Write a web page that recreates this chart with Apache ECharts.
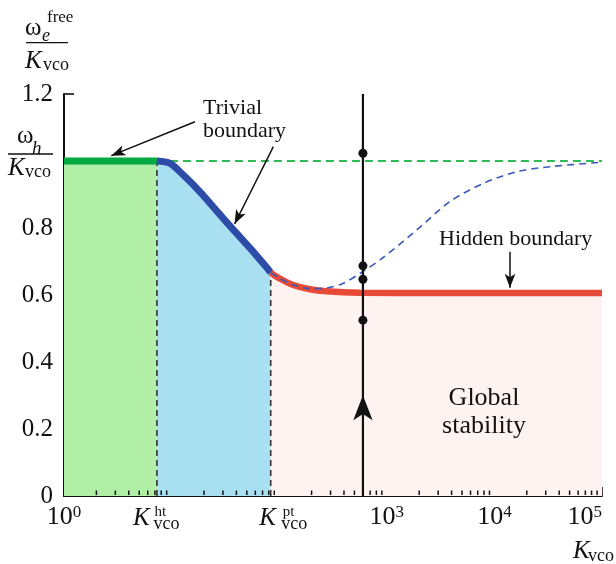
<!DOCTYPE html>
<html>
<head>
<meta charset="utf-8">
<script src="https://cdn.jsdelivr.net/npm/echarts@6/dist/echarts.min.js"></script>
<style>html,body{margin:0;padding:0;background:#fff}#c{width:616px;height:564px}</style>
</head>
<body>
<div id="c"></div>
<script>
// ---- data ----
const K_HT = 7.3;
const K_PT = 83.4;
const K_PROBE = 600;
const H_LEVEL = 1.0;

const trivialK = [1, 7.3];
const trivialV = [1.0, 1.0];

const blueK = [7.3, 9.66, 12.85, 18.37, 26.24, 37.41, 53.58, 76.56, 83.4];
const blueV = [1.0, 0.993, 0.958, 0.908, 0.851, 0.795, 0.740, 0.682, 0.667];

const redK = [83.4, 100, 135, 193, 276, 564, 3000, 100000];
const redV = [0.667, 0.650, 0.630, 0.617, 0.611, 0.607, 0.606, 0.606];

const dashK = [83.4, 100, 135, 193, 276, 395, 598, 927, 1897, 3864, 7889, 16110, 32890, 95720];
const dashV = [0.667, 0.650, 0.630, 0.619, 0.621, 0.635, 0.670, 0.712, 0.794, 0.879, 0.933, 0.968, 0.983, 0.996];

const probeDotsV = [1.023, 0.687, 0.647, 0.525];
const probeArrowV = 0.301;

const xLabelPowers = [0, 3, 4, 5];
const minorDigits = [2, 3, 4, 5, 6, 7, 8, 9];
const decades = [1, 10, 100, 1000, 10000];

// annotation arrows (data coordinates): [fromK, fromV, toK, toV]
const arrows = [
  [16.5, 1.117, 2.75, 1.016],
  [88.2, 1.043, 38.5, 0.812],
  [13960, 0.729, 13960, 0.622]
];

// ---- helpers ----
const zip = (a, b) => a.map((v, i) => [v, b[i]]);
const FONT = '"Liberation Serif", "Times New Roman", serif';
const INK = '#111';
const minorTicks = [];
decades.forEach(d => minorDigits.forEach(m => minorTicks.push([m * d, 0])));

const chart = echarts.init(document.getElementById('c'), null, {renderer: 'canvas'});

const option = {
  animation: false,
  backgroundColor: '#fff',
  grid: {left: 64, right: 14, top: 94, bottom: 68, containLabel: false, outerBoundsMode: 'none'},
  xAxis: {
    type: 'log', logBase: 10, min: 1, max: 100000, splitNumber: 5,
    axisLine: {lineStyle: {color: INK, width: 2}},
    axisTick: {inside: true, length: 9, lineStyle: {color: INK, width: 1.6}},
    splitLine: {show: false},
    axisLabel: {
      margin: 8, alignMaxLabel: 'right',
      formatter: v => {
        const e = Math.round(Math.log10(v));
        if (xLabelPowers.indexOf(e) < 0) return '';
        return '{b|10}{s|' + e + '}';
      },
      rich: {
        b: {fontSize: 26, fontFamily: FONT, color: INK, lineHeight: 26},
        s: {fontSize: 17, fontFamily: FONT, color: INK, lineHeight: 17, verticalAlign: 'top'}
      }
    }
  },
  yAxis: {
    type: 'value', min: 0, max: 1.2, interval: 0.2,
    axisLine: {show: true, lineStyle: {color: INK, width: 2}},
    axisTick: {show: true, inside: true, length: 10, lineStyle: {color: INK, width: 1.6}},
    splitLine: {show: false},
    axisLabel: {
      margin: 11, fontSize: 25, fontFamily: FONT, color: INK,
      formatter: v => Math.abs(v - 1) < 1e-9 ? '' : (Math.abs(v) < 1e-9 ? '0' : v.toFixed(1))
    }
  },
  series: [
    // area fills
    {type: 'line', data: zip(trivialK, trivialV), symbol: 'none', z: 1,
      lineStyle: {width: 0}, areaStyle: {color: '#b1eea6', opacity: 1}},
    {type: 'line', data: zip(blueK, blueV), symbol: 'none', smooth: 0.3, z: 1,
      lineStyle: {width: 0}, areaStyle: {color: '#a9e0f1', opacity: 1}},
    {type: 'line', data: zip(redK, redV), symbol: 'none', smooth: 0.3, z: 1,
      lineStyle: {width: 0}, areaStyle: {color: '#fff3f1', opacity: 1}},
    // dashed verticals at K_ht and K_pt
    {type: 'line', data: [[K_HT, 0], [K_HT, H_LEVEL]], symbol: 'none', z: 2,
      lineStyle: {color: '#333', width: 1.6, type: [6, 4]}},
    {type: 'line', data: [[K_PT, 0], [K_PT, redV[0]]], symbol: 'none', z: 2,
      lineStyle: {color: '#333', width: 1.6, type: [6, 4]}},
    // green dashed continuation
    {type: 'line', data: [[K_HT, H_LEVEL], [100000, H_LEVEL]], symbol: 'none', z: 2,
      lineStyle: {color: '#2fba57', width: 1.8, type: [8, 5]}},
    // thick boundaries
    {type: 'line', data: zip(trivialK, trivialV), symbol: 'none', z: 3,
      lineStyle: {color: '#00aa40', width: 7, cap: 'butt'}},
    {type: 'line', data: zip(blueK, blueV), symbol: 'none', smooth: 0.3, z: 3,
      lineStyle: {color: '#2c4ca8', width: 7}},
    {type: 'line', data: zip(redK, redV), symbol: 'none', smooth: 0.3, z: 4,
      lineStyle: {color: '#e84a38', width: 6.5}},
    // blue dashed curve
    {type: 'line', data: zip(dashK, dashV), symbol: 'none', smooth: 0.3, z: 5,
      lineStyle: {color: '#3a58bb', width: 1.6, type: [7, 5]}},
    // probe vertical line
    {type: 'line', data: [[K_PROBE, 0], [K_PROBE, 1.2]], symbol: 'none', z: 6,
      lineStyle: {color: INK, width: 2.2},
      markLine: {
        silent: true, symbol: ['none', 'arrow'], symbolSize: [8, 14],
        label: {show: false},
        lineStyle: {color: INK, width: 1.5, type: 'solid', opacity: 1},
        itemStyle: {color: INK},
        data: arrows.map(a => [{coord: [a[0], a[1]]}, {coord: [a[2], a[3]]}])
      }},
    {type: 'scatter', data: probeDotsV.map(v => [K_PROBE, v]), symbol: 'circle', symbolSize: 9, z: 7,
      itemStyle: {color: INK, opacity: 1}},
    {type: 'scatter', data: [[K_PROBE, probeArrowV]], symbol: 'arrow', symbolSize: [14.5, 25], z: 7,
      itemStyle: {color: INK, opacity: 1}},
    // minor ticks on log axis
    {type: 'custom', data: minorTicks, z: 8, silent: true,
      renderItem: (params, api) => {
        const p = api.coord([api.value(0), 0]);
        return {type: 'line', shape: {x1: p[0], y1: p[1] - 1, x2: p[0], y2: p[1] - 5.5},
          style: {stroke: INK, lineWidth: 1.5}};
      }}
  ]
};
chart.setOption(option);

// ---- text annotations (math-style labels) ----
const px = v => chart.convertToPixel({xAxisIndex: 0}, v);
const py = v => chart.convertToPixel({yAxisIndex: 0}, v);
function t(x, baseline, str, size, italic, align) {
  return {type: 'text', x: x, y: baseline - 0.3375 * size, z: 100,
    style: {text: str, font: (italic ? 'italic ' : '') + size + 'px ' + FONT, fill: INK,
      align: align || 'left', verticalAlign: 'middle'}};
}
function hline(x1, x2, y) {
  return {type: 'line', z: 100, shape: {x1: x1, y1: y, x2: x2, y2: y}, style: {stroke: INK, lineWidth: 1.3}};
}
const g = [];
// y-axis title  omega_e^free / K_vco
g.push(t(25, 37, 'ω', 25, false), t(42, 42, 'e', 18, true), t(47, 23, 'free', 17, false));
g.push(hline(26, 68, 42.7));
g.push(t(25, 70, 'K', 25, true), t(43, 71.5, 'vco', 18, false));
// y tick label at h level: omega_h / K_vco
const yh = py(H_LEVEL);
g.push(t(17, yh - 16, 'ω', 25, false), t(32, yh - 6, 'h', 19, true));
g.push(hline(8, 53, yh - 7));
g.push(t(8, yh + 16, 'K', 25, true), t(25, yh + 17, 'vco', 18, false));
// x labels K_vco^ht and K_vco^pt
const xb = py(0);
const xht = px(K_HT), xpt = px(K_PT);
g.push(t(xht - 24, xb + 30.7, 'K', 25, true), t(xht - 2.5, xb + 21.5, 'ht', 15, false), t(xht - 3.5, xb + 34, 'vco', 18, false));
g.push(t(xpt - 11.4, xb + 30.7, 'K', 25, true), t(xpt + 12, xb + 21.5, 'pt', 15, false), t(xpt + 10.5, xb + 34, 'vco', 18, false));
// axis name K_vco
g.push(t(573, 560, 'K', 25, true), t(588, 562, 'vco', 18, false));
// annotations
g.push(t(203, 115.5, 'Trivial', 22, false), t(203, 138.5, 'boundary', 22, false));
g.push(t(439, 247, 'Hidden boundary', 22, false));
g.push(t(484, 406.7, 'Global', 26, false, 'center'), t(484, 435, 'stability', 26, false, 'center'));

chart.setOption({graphic: {elements: g}});
</script>
</body>
</html>
